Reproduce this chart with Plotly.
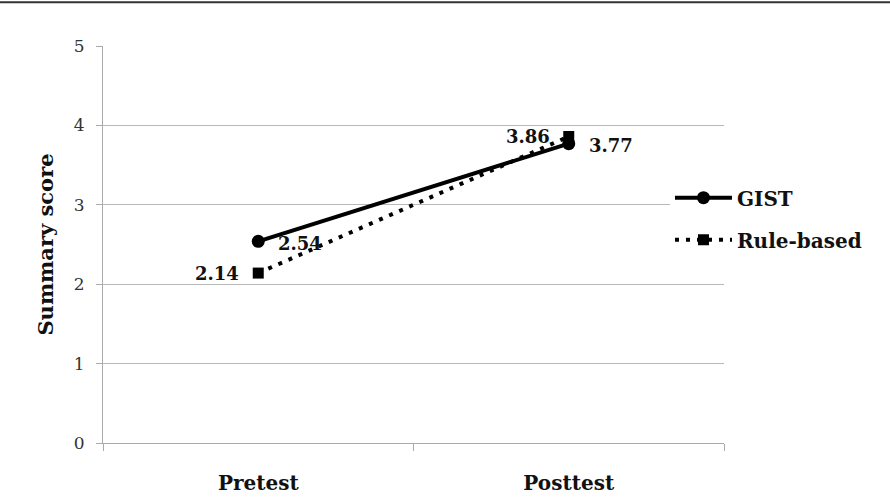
import plotly.graph_objects as go

categories = ["Pretest", "Posttest"]
gist = [2.54, 3.77]
rule_based = [2.14, 3.86]
gist_labels = ["2.54", "3.77"]
rule_labels = ["2.14", "3.86"]
y_ticks = [0, 1, 2, 3, 4, 5]

FONT = "DejaVu Serif"
LABEL_FONT = dict(family=FONT, size=18, color="#111")

fig = go.Figure()
fig.add_trace(go.Scatter(
    x=categories, y=gist, name="<b>GIST</b>", mode="lines+markers",
    line=dict(color="black", width=4),
    marker=dict(symbol="circle", size=13, color="black"),
    legendgroup="a", cliponaxis=False,
))
fig.add_trace(go.Scatter(
    x=categories, y=rule_based, name="<b>Rule-based</b>", mode="lines+markers",
    line=dict(color="black", width=4, dash="4px,7px"),
    marker=dict(symbol="square", size=11, color="black"),
    legendgroup="b", cliponaxis=False,
))

for cat, val, lab in zip(categories, gist, gist_labels):
    fig.add_annotation(x=cat, y=val, text=f"<b>{lab}</b>", showarrow=False,
                       xanchor="left", xshift=18, yshift=-2, font=LABEL_FONT)
for cat, val, lab in zip(categories, rule_based, rule_labels):
    fig.add_annotation(x=cat, y=val, text=f"<b>{lab}</b>", showarrow=False,
                       xanchor="right", xshift=-17, yshift=0, font=LABEL_FONT)

fig.add_shape(type="line", xref="paper", yref="paper",
              x0=-0.2, x1=1.3, y0=1.11, y1=1.11,
              line=dict(color="#333", width=2))

fig.update_layout(
    width=890, height=497,
    margin=dict(l=103, r=166, t=46, b=54),
    paper_bgcolor="white", plot_bgcolor="white",
    font=dict(family=FONT, color="#222"),
    legend=dict(
        x=0.913, xanchor="left", y=0.667, yanchor="top",
        bgcolor="white", font=dict(family=FONT, size=20, color="#111"),
        itemwidth=57, tracegroupgap=13, traceorder="grouped",
    ),
    xaxis=dict(
        type="category", range=[-0.5, 1.5], showgrid=False, automargin=False,
        showline=True, linecolor="#aaa", linewidth=1,
        ticks="outside", tickson="boundaries", ticklen=7, tickcolor="#aaa",
        tickfont=dict(family=FONT, size=20, color="#111"),
        tickvals=categories, ticktext=[f"<b>{c}</b>" for c in categories],
        ticklabelstandoff=22,
    ),
    yaxis=dict(
        range=[0, 5], tickvals=y_ticks, showgrid=True, gridcolor="#b8b8b8", gridwidth=1,
        showline=True, linecolor="#aaa", linewidth=1, zeroline=False, automargin=False,
        ticks="outside", ticklen=6, tickcolor="#aaa",
        tickfont=dict(family=FONT, size=17, color="#333"),
        ticklabelstandoff=8,
        title=dict(text="<b>Summary score</b>", font=dict(family=FONT, size=21, color="#111"), standoff=14),
    ),
)

fig.write_html("out.html")
